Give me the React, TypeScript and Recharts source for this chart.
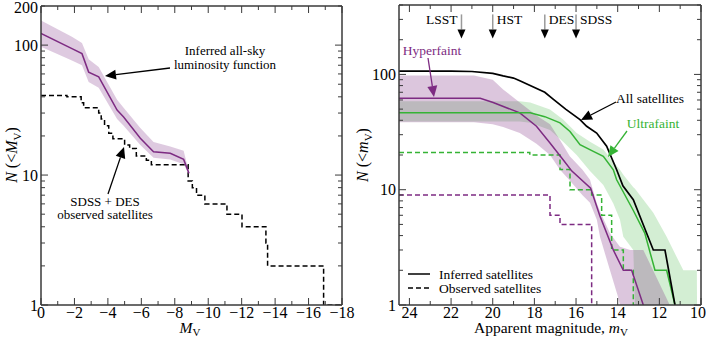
import React from 'react';
import { ComposedChart, Line, Area, XAxis, YAxis, Scatter } from 'recharts';

// ---------------- Left panel data ----------------
const lfMag = [0, -1.85, -2.45, -2.85, -3.45, -4.55, -4.94, -5.94, -6.73, -7.73, -8.53, -8.85];
const lfN = [123, 94, 86, 62, 57, 31.6, 28, 19.2, 15.1, 14.7, 13.2, 10.3];
const lfLo = [97, 76, 70, 52, 47, 27, 24, 17, 13.6, 13.2, 12.1, 10.1];
const lfHi = [155, 116, 104, 78, 68, 38, 33, 23, 18, 16.6, 15.4, 10.5];

const obsMag = [0, -1.55, -2.4, -2.55, -3.45, -3.6, -3.8, -4.05, -4.3, -5.0, -5.3, -5.7, -6.3, -6.6, -8.8, -9.05, -9.3, -9.8, -11.12, -12.02, -13.45, -13.55, -16.9, -18];
const obsN = [41, 40, 36, 33, 30, 27, 24, 21, 19, 17, 16, 14, 13, 12, 9, 8, 7, 6, 5, 4, 3, 2, 1, 1];

// ---------------- Right panel data ----------------
const allMag = [24.5, 22, 21, 20, 19.5, 19, 18.7, 17.5, 17.1, 16.5, 15.81, 15.49, 15.01, 14.53, 14.05, 13.75, 13.25, 12.29, 11.73, 11.25];
const allN = [107, 107, 106, 102, 97, 93, 88, 70, 61, 50, 40.6, 35.5, 31, 23.8, 14.9, 10.8, 8.2, 3, 3, 1];

const ufMag = [24.5, 18.2, 17.5, 16.77, 16.29, 15.81, 15.17, 14.69, 14.21, 14.05, 13.25, 12.7, 12.21, 11.65, 11.25];
const ufN = [46.4, 46.4, 43, 38, 32, 24.6, 21.5, 19.5, 14.9, 12.2, 6.6, 4.2, 2, 2, 1];

const hfMag = [24.5, 20.6, 19.98, 18.7, 17.9, 17.25, 16.62, 16.2, 15.3, 14.85, 14.21, 13.73, 13.33, 12.77];
const hfN = [62, 62, 57, 46.4, 35.5, 25.4, 18.2, 14.5, 10.3, 5.9, 3, 2, 2, 1];

const ufBandMag = [24.5, 18.7, 18.2, 17.25, 16.62, 15.97, 15.33, 14.69, 14.21, 13.89, 13.73, 13.25, 13.17, 12.29, 11.65, 10.85, 10.2, 10.19];
const ufBandLo = [39, 39, 38, 33, 26, 20, 14.5, 11, 7.6, 5.5, 3.9, 3, 1, 1, 1, 1, 1, 1];
const ufBandHi = [58.6, 58.6, 57, 49.6, 40.6, 31, 26, 22.3, 17.5, 14.9, 13.5, 10.5, 10.2, 6.3, 3.9, 2, 2, 1];

const hfBandMag = [24.5, 20.9, 20.0, 19.5, 18.7, 17.9, 17.25, 16.77, 16.3, 15.7, 15.33, 15.0, 14.85, 14.37, 14.0, 13.89, 13.4, 12.77, 11.5];
const hfBandLo = [38.5, 38.5, 37, 35, 31, 25, 20, 14.9, 12, 9, 7.7, 5.5, 3.9, 2, 1.2, 1, 1, 1, 1];
const hfBandHi = [98, 98, 90, 74, 57, 44, 37, 27, 19.5, 15, 12.2, 7.6, 6.5, 4.2, 3.4, 3.2, 3, 3, 1];

const obsUfMag = [24.5, 18.22, 16.77, 16.29, 15.25, 14.77, 14.29, 13.73, 13.25];
const obsUfN = [21, 20, 15, 10, 9, 6, 3, 2, 1];

const obsHfMag = [24.5, 17.25, 16.77, 15.25];
const obsHfN = [9, 6, 5, 1];

const surveyNames = ['LSST', 'HST', 'DES', 'SDSS'];
const surveyMag = [21.5, 20.0, 17.5, 16.0];
const surveySide = ['left', 'right', 'right', 'right'];
const surveyMarkerN = 300;

// ---------------- Ticks ----------------
const leftXTicks = [-18, -17, -16, -15, -14, -13, -12, -11, -10, -9, -8, -7, -6, -5, -4, -3, -2, -1, 0];
const rightXTicks = [10, 11, 12, 13, 14, 15, 16, 17, 18, 19, 20, 21, 22, 23, 24];
const leftYTicks = [1, 2, 3, 4, 5, 6, 7, 8, 9, 10, 20, 30, 40, 50, 60, 70, 80, 90, 100, 200];
const rightYTicks = [1, 2, 3, 4, 5, 6, 7, 8, 9, 10, 20, 30, 40, 50, 60, 70, 80, 90, 100, 200, 300, 400];
const leftYLabels = [1, 10, 100, 200];
const rightYLabels = [1, 10, 100];
const yMajors = [1, 10, 100];

// ---------------- Build series ----------------
const pts = (xs: number[], ys: number[]) => xs.map((x, i) => ({ x, y: ys[i] }));
const band = (xs: number[], lo: number[], hi: number[]) => xs.map((x, i) => ({ x, lo: lo[i], hi: hi[i] }));

const lfLine = pts(lfMag, lfN);
const lfBand = band(lfMag, lfLo, lfHi);
const obsLeft = pts(obsMag, obsN);
const allLine = pts(allMag, allN);
const ufLine = pts(ufMag, ufN);
const hfLine = pts(hfMag, hfN);
const ufBand = band(ufBandMag, ufBandLo, ufBandHi);
const hfBand = band(hfBandMag, hfBandLo, hfBandHi);
const obsUf = pts(obsUfMag, obsUfN);
const obsHf = pts(obsHfMag, obsHfN);
const surveys = surveyNames.map((name, i) => ({ x: surveyMag[i], y: surveyMarkerN, name, side: surveySide[i] }));

const FONT = "'Liberation Serif', 'Times New Roman', 'DejaVu Serif', serif";
const AX = '#3a3a3a';
const PURPLE = '#7d2b82';
const GREEN = '#35b335';
const rangeKey = (d: any) => [d.lo, d.hi];

const fmtX = (v: number) => (v < 0 ? '\u2212' + Math.abs(v) : String(v));

function makeYTick(side: 'left' | 'right', labels: number[], topValue: number) {
  return (props: any) => {
    const { x, y, payload } = props;
    const v = payload.value;
    const len = yMajors.includes(v) ? 7 : 4;
    const dir = side === 'left' ? 1 : -1;
    const dy = v === topValue ? 6.5 : 5.5;
    return (
      <g>
        <line x1={x} x2={x + dir * len} y1={y} y2={y} stroke={AX} strokeWidth={1} />
        {side === 'left' && labels.includes(v) && (
          <text x={x - 3} y={y + dy} textAnchor="end" fontFamily={FONT} fontSize={16} fill="#000">
            {v}
          </text>
        )}
      </g>
    );
  };
}

function makeXTick(side: 'bottom' | 'top', edgeValue: number | null = null, edgeShift = 0) {
  return (props: any) => {
    const { x, y, payload } = props;
    const v = payload.value;
    const major = v % 2 === 0;
    const len = major ? 7 : 4;
    const dir = side === 'bottom' ? -1 : 1;
    const lx = v === edgeValue ? x + edgeShift : x;
    return (
      <g>
        <line x1={x} x2={x} y1={y} y2={y + dir * len} stroke={AX} strokeWidth={1} />
        {side === 'bottom' && major && (
          <text x={lx} y={y + 12.5} textAnchor="middle" fontFamily={FONT} fontSize={16} fill="#000">
            {fmtX(v)}
          </text>
        )}
      </g>
    );
  };
}

const SurveyMark = (props: any) => {
  const { cx, cy, payload } = props;
  const left = payload.side === 'left';
  return (
    <g>
      <line x1={cx} x2={cx} y1={cy - 5} y2={cy + 10} stroke="#9a9a9a" strokeWidth={1.5} />
      <polygon points={`${cx - 4},${cy + 10} ${cx + 4},${cy + 10} ${cx},${cy + 19}`} fill="#000" />
      <text x={left ? cx - 4 : cx + 4} y={cy + 5} textAnchor={left ? 'end' : 'start'} fontFamily={FONT} fontSize={13.5} fill="#000">
        {payload.name}
      </text>
    </g>
  );
};

function Arrow({ x1, y1, x2, y2, color, head = 11, w = 5 }: any) {
  const dx = x2 - x1;
  const dy = y2 - y1;
  const L = Math.hypot(dx, dy);
  const ux = dx / L;
  const uy = dy / L;
  const bx = x2 - ux * head;
  const by = y2 - uy * head;
  const px = -uy;
  const py = ux;
  return (
    <g>
      <line x1={x1} y1={y1} x2={bx} y2={by} stroke={color} strokeWidth={1.3} />
      <polygon points={`${x2},${y2} ${bx + px * w},${by + py * w} ${bx - px * w},${by - py * w}`} fill={color} />
    </g>
  );
}

const axisLine = { stroke: AX, strokeWidth: 1.5 };

export default function App() {
  const common = { isAnimationActive: false, xAxisId: 'b', yAxisId: 'l' } as any;
  return (
    <div style={{ position: 'absolute', left: 0, top: 0, width: 706, height: 339, background: '#fff', overflow: 'hidden' }}>
      <div style={{ position: 'absolute', left: 0, top: 0 }}>
        <ComposedChart width={364} height={339} margin={{ top: 5, right: 21, bottom: 0, left: 0 }}>
          <XAxis xAxisId="b" orientation="bottom" type="number" dataKey="x" domain={[-18, 0]} reversed allowDataOverflow ticks={leftXTicks} interval={0} tick={makeXTick('bottom')} tickLine={false} tickSize={0} tickMargin={0} axisLine={axisLine} height={34} />
          <XAxis xAxisId="t" orientation="top" type="number" dataKey="x" domain={[-18, 0]} reversed allowDataOverflow ticks={leftXTicks} interval={0} tick={makeXTick('top')} tickLine={false} tickSize={0} tickMargin={0} axisLine={axisLine} height={1} />
          <YAxis yAxisId="l" orientation="left" type="number" dataKey="y" scale="log" domain={[1, 200]} allowDataOverflow ticks={leftYTicks} interval={0} tick={makeYTick('left', leftYLabels, 200)} tickLine={false} tickSize={0} tickMargin={0} axisLine={axisLine} width={41} />
          <YAxis yAxisId="r" orientation="right" type="number" scale="log" domain={[1, 200]} allowDataOverflow ticks={leftYTicks} interval={0} tick={makeYTick('right', leftYLabels, 200)} tickLine={false} tickSize={0} tickMargin={0} axisLine={axisLine} width={1} />
          <Area {...common} data={lfBand} dataKey={rangeKey} type="linear" stroke="none" fill={PURPLE} fillOpacity={0.25} />
          <Line {...common} data={obsLeft} dataKey="y" type="stepAfter" stroke="#000" strokeWidth={1.5} strokeDasharray="5 3" dot={false} />
          <Line {...common} data={lfLine} dataKey="y" type="linear" stroke={PURPLE} strokeWidth={1.5} dot={false} />
        </ComposedChart>
      </div>
      <div style={{ position: 'absolute', left: 350, top: 0 }}>
        <ComposedChart width={356} height={339} margin={{ top: 4, right: 4, bottom: 0, left: 0 }}>
          <XAxis xAxisId="b" orientation="bottom" type="number" dataKey="x" domain={[10, 24.5]} reversed allowDataOverflow ticks={rightXTicks} interval={0} tick={makeXTick('bottom', 10, -3)} tickLine={false} tickSize={0} tickMargin={0} axisLine={axisLine} height={34} />
          <XAxis xAxisId="t" orientation="top" type="number" dataKey="x" domain={[10, 24.5]} reversed allowDataOverflow ticks={rightXTicks} interval={0} tick={makeXTick('top')} tickLine={false} tickSize={0} tickMargin={0} axisLine={axisLine} height={1} />
          <YAxis yAxisId="l" orientation="left" type="number" dataKey="y" scale="log" domain={[1, 400]} allowDataOverflow ticks={rightYTicks} interval={0} tick={makeYTick('left', rightYLabels, 400)} tickLine={false} tickSize={0} tickMargin={0} axisLine={axisLine} width={49} />
          <YAxis yAxisId="r" orientation="right" type="number" scale="log" domain={[1, 400]} allowDataOverflow ticks={rightYTicks} interval={0} tick={makeYTick('right', rightYLabels, 400)} tickLine={false} tickSize={0} tickMargin={0} axisLine={axisLine} width={1} />
          <Area {...common} data={ufBand} dataKey={rangeKey} type="linear" stroke="none" fill={GREEN} fillOpacity={0.22} />
          <Area {...common} data={hfBand} dataKey={rangeKey} type="linear" stroke="none" fill={PURPLE} fillOpacity={0.27} />
          <Line {...common} data={obsUf} dataKey="y" type="stepAfter" stroke={GREEN} strokeWidth={1.5} strokeDasharray="5 3" dot={false} />
          <Line {...common} data={obsHf} dataKey="y" type="stepAfter" stroke={PURPLE} strokeWidth={1.5} strokeDasharray="5 3" dot={false} />
          <Line {...common} data={hfLine} dataKey="y" type="linear" stroke={PURPLE} strokeWidth={1.5} dot={false} />
          <Line {...common} data={ufLine} dataKey="y" type="linear" stroke={GREEN} strokeWidth={1.5} dot={false} />
          <Line {...common} data={allLine} dataKey="y" type="linear" stroke="#000" strokeWidth={1.7} dot={false} />
          <Scatter {...common} data={surveys} dataKey="y" shape={SurveyMark} />
        </ComposedChart>
      </div>
      <svg width={706} height={339} style={{ position: 'absolute', left: 0, top: 0, pointerEvents: 'none' }} fontFamily={FONT}>
        {/* Left panel annotations */}
        <text x={225} y={55} textAnchor="middle" fontSize={13} fill="#000">Inferred all-sky</text>
        <text x={225} y={68.5} textAnchor="middle" fontSize={13} fill="#000">luminosity function</text>
        <Arrow x1={170} y1={68} x2={105} y2={76} color="#000" />
        <text x={105} y={205.5} textAnchor="middle" fontSize={13} fill="#000">SDSS + DES</text>
        <text x={105} y={219} textAnchor="middle" fontSize={13} fill="#000">observed satellites</text>
        <Arrow x1={108} y1={194} x2={124} y2={147} color="#000" />
        {/* Left axis titles */}
        <text transform="translate(17,155) rotate(-90)" textAnchor="middle" fontSize={16} fill="#000">
          <tspan fontStyle="italic">N</tspan>
          <tspan> (&lt;</tspan>
          <tspan fontStyle="italic">M</tspan>
          <tspan fontSize={11} dy={4}>V</tspan>
          <tspan dy={-4}>)</tspan>
        </text>
        <text x={190} y={333} textAnchor="middle" fontSize={15.5} fill="#000">
          <tspan fontStyle="italic">M</tspan>
          <tspan fontSize={11} dy={3}>V</tspan>
        </text>
        {/* Right panel annotations */}
        <text x={432} y={55} textAnchor="middle" fontSize={13.5} fill={PURPLE}>Hyperfaint</text>
        <Arrow x1={428} y1={58} x2={434} y2={97} color={PURPLE} />
        <text x={650} y={103} textAnchor="middle" fontSize={13.5} fill="#000">All satellites</text>
        <Arrow x1={616} y1={102} x2={581} y2={120} color="#000" />
        <text x={653} y={128} textAnchor="middle" fontSize={13.5} fill={GREEN}>Ultrafaint</text>
        <Arrow x1={627} y1={131} x2={608} y2={157} color={GREEN} />
        {/* Legend */}
        <line x1={408} x2={430} y1={274} y2={274} stroke="#000" strokeWidth={1.5} />
        <text x={439} y={278.5} fontSize={13.5} fill="#000">Inferred satellites</text>
        <line x1={408} x2={430} y1={288} y2={288} stroke="#000" strokeWidth={1.5} strokeDasharray="5 3" />
        <text x={439} y={292.5} fontSize={13.5} fill="#000">Observed satellites</text>
        {/* Right axis titles */}
        <text transform="translate(368,155) rotate(-90)" textAnchor="middle" fontSize={16} fill="#000">
          <tspan fontStyle="italic">N</tspan>
          <tspan> (&lt;</tspan>
          <tspan fontStyle="italic">m</tspan>
          <tspan fontSize={11} dy={4}>V</tspan>
          <tspan dy={-4}>)</tspan>
        </text>
        <text x={551} y={333} textAnchor="middle" fontSize={15.5} fill="#000">
          <tspan>Apparent magnitude, </tspan>
          <tspan fontStyle="italic">m</tspan>
          <tspan fontSize={11} dy={3}>V</tspan>
        </text>
      </svg>
    </div>
  );
}
